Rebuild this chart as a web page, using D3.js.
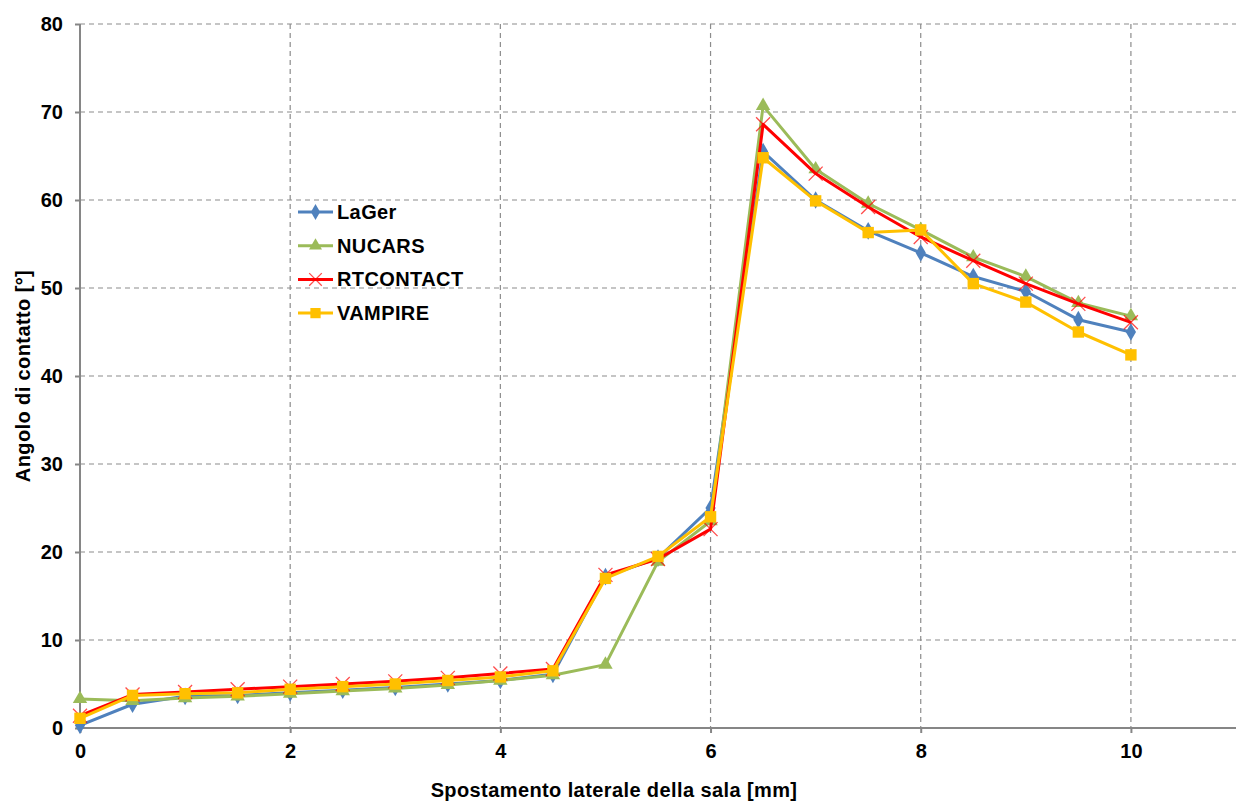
<!DOCTYPE html>
<html>
<head>
<meta charset="utf-8">
<script src="https://cdn.jsdelivr.net/npm/d3@7"></script>
<style>
  body { margin: 0; background: #fff; }
  svg text { font-family: "Liberation Sans", Arial, sans-serif; font-weight: bold; fill: #000; }
</style>
</head>
<body>
<svg width="1242" height="803"></svg>
<script>
const svg = d3.select("svg");

// x values (mm)
const xs = [0, 0.5, 1, 1.5, 2, 2.5, 3, 3.5, 4, 4.5, 5, 5.5, 6, 6.5, 7, 7.5, 8, 8.5, 9, 9.5, 10];

const lager     = [0.3, 2.7, 3.6, 3.7, 4.0, 4.3, 4.6, 5.0, 5.4, 6.1, 17.2, 19.3, 25.0, 65.5, 60.0, 56.5, 54.0, 51.3, 49.6, 46.4, 45.0];
const nucars    = [3.3, 3.1, 3.4, 3.6, 3.9, 4.2, 4.5, 4.9, 5.4, 6.0, 7.2, 18.9, 23.5, 70.7, 63.5, 59.6, 56.6, 53.5, 51.3, 48.3, 46.8];
const rtcontact = [1.4, 3.8, 4.1, 4.4, 4.7, 5.0, 5.3, 5.7, 6.2, 6.7, 17.4, 19.2, 22.6, 68.6, 63.0, 59.2, 55.8, 53.1, 50.5, 48.2, 46.1];
const vampire   = [1.1, 3.7, 3.9, 4.0, 4.4, 4.7, 5.0, 5.4, 5.8, 6.5, 17.0, 19.5, 24.0, 64.8, 59.9, 56.3, 56.6, 50.5, 48.4, 45.0, 42.4];

const xTicks = [0, 2, 4, 6, 8, 10];
const yTicks = [0, 10, 20, 30, 40, 50, 60, 70, 80];

const series = [
  { name: "LaGer",     values: lager,     color: "#4F81BD", marker: "diamond" },
  { name: "NUCARS",    values: nucars,    color: "#9BBB59", marker: "triangle" },
  { name: "RTCONTACT", values: rtcontact, color: "#FF0000", marker: "cross" },
  { name: "VAMPIRE",   values: vampire,   color: "#FFC000", marker: "square" }
];

const plotLeft = 80, plotRight = 1236, plotTop = 24, plotBottom = 728;
const fontSize = "20px", spacing = "0.4px";

const x = d3.scaleLinear().domain([0, 11]).range([plotLeft, plotRight]);
const y = d3.scaleLinear().domain([0, 80]).range([plotBottom, plotTop]);

// griglia
const grid = svg.append("g");
grid.selectAll("line.h")
  .data(yTicks.filter(d => d > 0))
  .enter().append("line")
  .attr("x1", plotLeft).attr("x2", plotRight)
  .attr("y1", d => y(d)).attr("y2", d => y(d))
  .attr("stroke", "#8c8c8c").attr("stroke-width", 1.2)
  .attr("stroke-dasharray", "5,4");
grid.selectAll("line.v")
  .data(xTicks.filter(d => d > 0))
  .enter().append("line")
  .attr("y1", plotTop).attr("y2", plotBottom)
  .attr("x1", d => x(d)).attr("x2", d => x(d))
  .attr("stroke", "#8c8c8c").attr("stroke-width", 1.2)
  .attr("stroke-dasharray", "5,4");

// assi
const xAxis = svg.append("g")
  .attr("transform", `translate(0,${plotBottom})`)
  .call(d3.axisBottom(x).tickValues(xTicks).tickSize(5).tickPadding(11).tickFormat(d3.format("d")));
const yAxis = svg.append("g")
  .attr("transform", `translate(${plotLeft},0)`)
  .call(d3.axisLeft(y).tickValues(yTicks).tickSize(5).tickPadding(12).tickFormat(d3.format("d")));

[xAxis, yAxis].forEach(a => {
  a.select(".domain").attr("stroke", "#868686").attr("stroke-width", 2);
  a.selectAll(".tick line").attr("stroke", "#868686").attr("stroke-width", 2);
  a.selectAll(".tick text").style("font-size", fontSize).attr("fill", "#000");
});
xAxis.select(".domain").attr("d", `M${plotLeft},0H${plotRight}`);
yAxis.select(".domain").attr("d", `M0,${plotTop}V${plotBottom}`);

// titoli
svg.append("text")
  .attr("x", 614).attr("y", 797)
  .attr("text-anchor", "middle")
  .style("font-size", fontSize).style("letter-spacing", spacing)
  .text("Spostamento laterale della sala [mm]");
svg.append("text")
  .attr("transform", "translate(30,376) rotate(-90)")
  .attr("text-anchor", "middle")
  .style("font-size", fontSize).style("letter-spacing", spacing)
  .text("Angolo di contatto [°]");

// marker
function drawMarker(g, type, color, size) {
  if (type === "diamond") {
    g.append("path").attr("d", d3.symbol(d3.symbolDiamond, size * size * 0.9)()).attr("fill", color);
  } else if (type === "triangle") {
    g.append("path").attr("d", d3.symbol(d3.symbolTriangle, size * size * 0.9)()).attr("fill", color);
  } else if (type === "square") {
    g.append("path").attr("d", d3.symbol(d3.symbolSquare, size * size * 1.3)()).attr("fill", color);
  } else if (type === "cross") {
    const s = size * 0.7;
    g.append("path").attr("d", `M${-s},${-s}L${s},${s}M${-s},${s}L${s},${-s}`)
      .attr("stroke", color).attr("stroke-width", 1.3).attr("fill", "none").attr("opacity", 0.7);
  }
}

const line = d3.line().x((d, i) => x(xs[i])).y(d => y(d));

series.forEach(s => {
  const g = svg.append("g");
  g.append("path")
    .datum(s.values)
    .attr("d", line)
    .attr("fill", "none")
    .attr("stroke", s.color)
    .attr("stroke-width", 3)
    .attr("stroke-linejoin", "round");
  s.values.forEach((v, i) => {
    const m = g.append("g").attr("transform", `translate(${x(xs[i])},${y(v)})`);
    drawMarker(m, s.marker, s.color, 10);
  });
});

// legenda
const legend = svg.append("g");
series.forEach((s, i) => {
  const ly = 212 + i * 33.7;
  const row = legend.append("g");
  row.append("line")
    .attr("x1", 298).attr("x2", 333)
    .attr("y1", ly).attr("y2", ly)
    .attr("stroke", s.color).attr("stroke-width", 3);
  const m = row.append("g").attr("transform", `translate(315.5,${ly})`);
  drawMarker(m, s.marker, s.color, 9);
  row.append("text")
    .attr("x", 337).attr("y", ly + 7)
    .style("font-size", fontSize).style("letter-spacing", spacing)
    .text(s.name);
});
</script>
</body>
</html>
